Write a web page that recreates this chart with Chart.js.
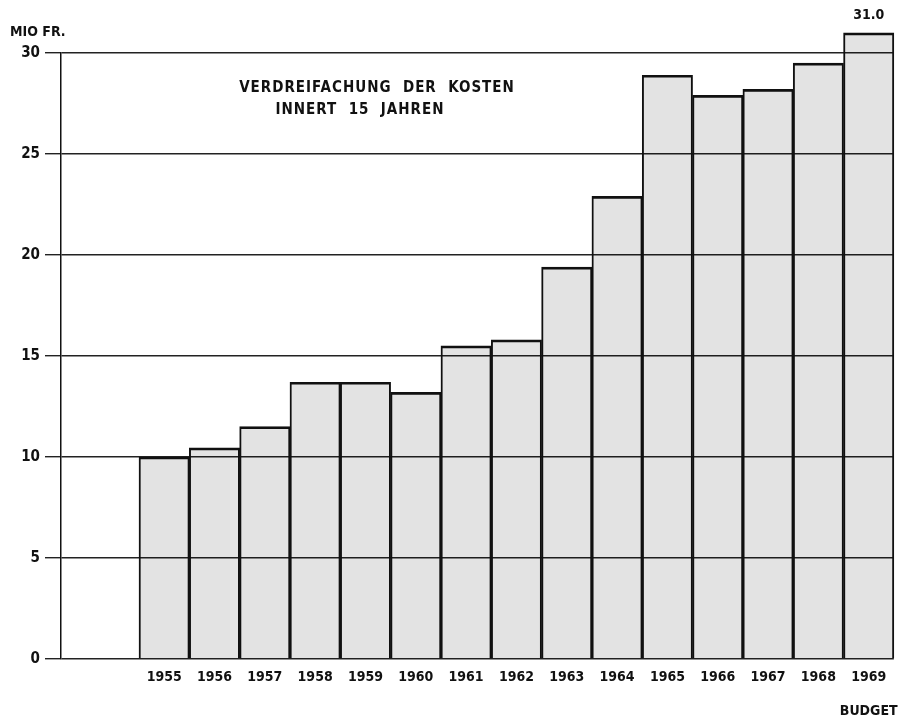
<!DOCTYPE html>
<html>
<head>
<meta charset="utf-8">
<script src="https://cdn.jsdelivr.net/npm/chart.js@4.4.1/dist/chart.umd.min.js"></script>
<style>
  body { margin: 0; background: #fff; }
  canvas { display: block; }
</style>
</head>
<body>
<canvas id="costChart" width="908" height="720"></canvas>
<script>
// Jahre und Kosten (Mio Fr.), 1969 = Budget
const years = [1955, 1956, 1957, 1958, 1959, 1960, 1961, 1962, 1963, 1964, 1965, 1966, 1967, 1968, 1969];
const costs = [10.0, 10.45, 11.5, 13.7, 13.7, 13.2, 15.5, 15.8, 19.4, 22.9, 28.9, 27.9, 28.2, 29.5, 31.0];
const yTicks = [0, 5, 10, 15, 20, 25, 30];
const titleLines = ['VERDREIFACHUNG  DER  KOSTEN', 'INNERT  15  JAHREN'];
const unitLabel = 'MIO FR.';
const budgetLabel = 'BUDGET';

const font = "'DejaVu Sans Condensed', 'DejaVu Sans', sans-serif";

// extra texts: unit, headline, value over last bar
const textPlugin = {
    id: 'texts',
    afterDraw(chart) {
        const ctx = chart.ctx;
        ctx.save();
        ctx.fillStyle = '#111';
        ctx.font = '600 14px ' + font;
        ctx.textBaseline = 'middle';
        ctx.textAlign = 'left';
        ctx.fillText(unitLabel, 10, 32);

        ctx.textAlign = 'center';
        ctx.font = '600 15px ' + font;
        ctx.letterSpacing = '1px';
        ctx.fillText(titleLines[0], 377, 88);
        ctx.fillText(titleLines[1], 360, 110);
        ctx.letterSpacing = '0px';

        const meta = chart.getDatasetMeta(0);
        const last = meta.data[meta.data.length - 1];
        ctx.font = '600 14px ' + font;
        ctx.textBaseline = 'bottom';
        ctx.fillText(costs[costs.length - 1].toFixed(1), last.x, last.y - 10);
        ctx.restore();
    }
};

const ctx = document.getElementById('costChart').getContext('2d');
new Chart(ctx, {
    type: 'bar',
    data: {
        datasets: [{
            data: years.map((y, i) => ({ x: y, y: costs[i] })),
            backgroundColor: 'rgba(0,0,0,0.11)',
            borderColor: '#111',
            borderWidth: { top: 2, left: 1.3, right: 1.3, bottom: 0 },
            borderSkipped: false,
            barPercentage: 1,
            categoryPercentage: 1,
            clip: false
        }]
    },
    options: {
        responsive: false,
        animation: false,
        layout: { padding: { top: 53, right: 13, left: 0, bottom: 0 } },
        plugins: { legend: { display: false }, tooltip: { enabled: false } },
        scales: {
            x: {
                type: 'linear',
                offset: false,
                min: 1952.95,
                max: 1969.5,
                grid: { display: false, drawTicks: false, offset: false },
                border: { display: false },
                ticks: {
                    stepSize: 1,
                    maxTicksLimit: 40,
                    includeBounds: false,
                    autoSkip: false,
                    maxRotation: 0,
                    padding: 10,
                    color: '#111',
                    font: { family: font, size: 14, weight: '600' },
                    callback: function(v) {
                        if (!years.includes(v)) return '';
                        if (v === years[years.length - 1]) return [String(v), '', budgetLabel];
                        return String(v);
                    }
                },
                afterFit: function(scale) { scale.height = 61; }
            },
            y: {
                min: 0,
                max: 30,
                afterBuildTicks: function(scale) { scale.ticks = yTicks.map(v => ({ value: v })); },
                grid: { color: '#222', lineWidth: 1.4, tickLength: 16, tickColor: '#222' },
                border: { display: true, color: '#111', width: 1.5 },
                ticks: {
                    padding: 5,
                    color: '#111',
                    font: { family: font, size: 15, weight: '600' }
                },
                afterFit: function(scale) { scale.width = 61; }
            }
        }
    },
    plugins: [textPlugin]
});
</script>
</body>
</html>
